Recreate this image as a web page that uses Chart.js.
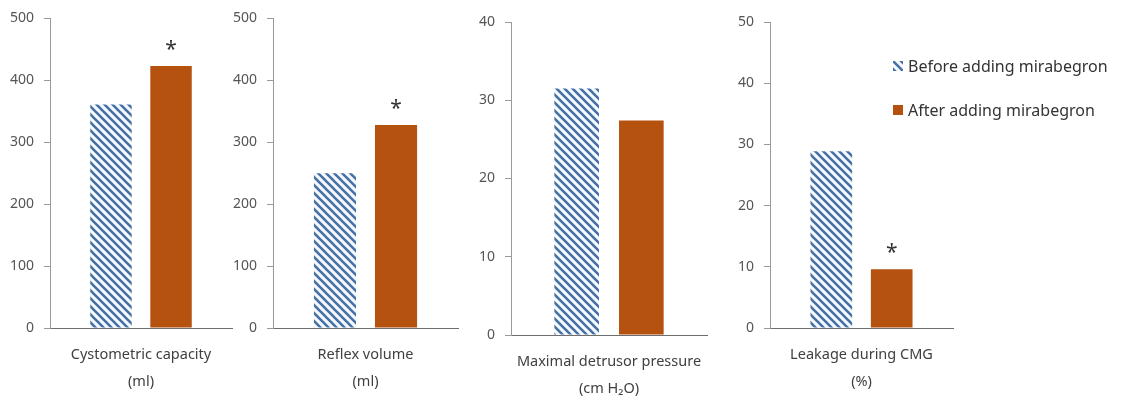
<!DOCTYPE html>
<html lang="en">
<head>
  <meta charset="UTF-8">
  <title>Mirabegron urodynamics</title>
  <script src="https://cdn.jsdelivr.net/npm/chart.js"></script>
  <style>
    html, body { margin: 0; padding: 0; background: #fff; }
    #wrap { position: relative; width: 1123px; height: 401px; overflow: hidden; }
    #wrap canvas { position: absolute; top: 0; }
  </style>
</head>
<body>
<div id="wrap">
  <canvas id="c0"></canvas>
  <canvas id="c1"></canvas>
  <canvas id="c2"></canvas>
  <canvas id="c3"></canvas>
</div>
<script>
// data
const seriesLabels = ['Before adding mirabegron', 'After adding mirabegron'];
const panelLabels = [
  ['Cystometric capacity', '(ml)'],
  ['Reflex volume', '(ml)'],
  ['Maximal detrusor pressure', '(cm H\u2082O)'],
  ['Leakage during CMG', '(%)']
];
const beforeValues = [361, 250, 31.5, 28.9];
const afterValues = [423, 328, 27.4, 9.6];
const significant = [true, true, false, true]; // * on the "after" bar
const yMax = [500, 500, 40, 50];
const yStep = [100, 100, 10, 10];

// where each little chart sits on the page
const boxes = [
  { left: 0,   width: 240, yw: 50, right: 8,   top: 16, bottom: 328 },
  { left: 225, width: 240, yw: 48, right: 7,   top: 16, bottom: 328 },
  { left: 460, width: 255, yw: 51, right: 8,   top: 22, bottom: 335 },
  { left: 720, width: 403, yw: 50, right: 170, top: 22, bottom: 328 }
];

const H = 401;
const FONT = "'Noto Sans', 'Open Sans', sans-serif";
const orange = '#b5520f';

function hatch() {
  const s = 8;
  const c = document.createElement('canvas');
  c.width = s; c.height = s;
  const g = c.getContext('2d');
  g.fillStyle = '#f6f9fd';
  g.fillRect(0, 0, s, s);
  g.strokeStyle = '#4571a6';
  g.lineWidth = 2.6;
  g.beginPath();
  g.moveTo(0, 0); g.lineTo(s, s);
  g.moveTo(-2, s - 2); g.lineTo(2, s + 2);
  g.moveTo(s - 2, -2); g.lineTo(s + 2, 2);
  g.stroke();
  return g.createPattern(c, 'repeat');
}

const starPlugin = {
  id: 'stars',
  afterDatasetsDraw(chart) {
    if (!chart.options.plugins.stars.show) return;
    const bar = chart.getDatasetMeta(1).data[0];
    const ctx = chart.ctx;
    ctx.save();
    ctx.fillStyle = '#333';
    ctx.font = '21px ' + FONT;
    ctx.textAlign = 'center';
    ctx.textBaseline = 'middle';
    ctx.fillText('*', bar.x, bar.y - 16);
    ctx.restore();
  }
};

const legendPlugin = {
  id: 'sideLegend',
  afterDraw(chart) {
    if (!chart.options.plugins.sideLegend.show) return;
    const ctx = chart.ctx;
    const x0 = chart.chartArea.right - 60;
    const ys = [66, 110];
    ctx.save();
    ctx.font = '16px ' + FONT;
    ctx.textBaseline = 'middle';
    chart.data.datasets.forEach((ds, i) => {
      ctx.fillStyle = ds.backgroundColor;
      ctx.fillRect(x0, ys[i] - 5, 10, 10);
      ctx.fillStyle = '#333';
      ctx.fillText(ds.label, x0 + 15, ys[i] + 1);
    });
    ctx.restore();
  }
};

const pattern = hatch();

boxes.forEach((b, i) => {
  const cv = document.getElementById('c' + i);
  cv.width = b.width;
  cv.height = H;
  cv.style.left = b.left + 'px';
  cv.style.width = b.width + 'px';
  cv.style.height = H + 'px';

  new Chart(cv, {
    type: 'bar',
    data: {
      labels: [panelLabels[i]],
      datasets: [
        { label: seriesLabels[0], data: [beforeValues[i]], backgroundColor: pattern },
        { label: seriesLabels[1], data: [afterValues[i]], backgroundColor: orange }
      ]
    },
    options: {
      responsive: false,
      animation: false,
      devicePixelRatio: 1,
      layout: { padding: { left: 0, right: b.right, top: b.top, bottom: 0 } },
      datasets: { bar: { categoryPercentage: 0.66, barPercentage: 0.69 } },
      plugins: {
        legend: { display: false },
        tooltip: { enabled: false },
        stars: { show: significant[i] },
        sideLegend: { show: i === 3 }
      },
      scales: {
        x: {
          grid: { display: false },
          border: { display: true, color: '#6e6e6e', width: 1 },
          ticks: {
            color: '#404040',
            padding: 5,
            font: { family: FONT, size: 14.5, lineHeight: '27px' }
          },
          afterFit(s) { s.height = H - b.bottom; }
        },
        y: {
          min: 0,
          max: yMax[i],
          grid: { drawOnChartArea: false, drawTicks: true, tickLength: 6, color: '#9a9a9a' },
          border: { display: true, color: '#9a9a9a', width: 1 },
          ticks: {
            stepSize: yStep[i],
            color: '#555',
            padding: 10,
            font: { family: FONT, size: 14 }
          },
          afterFit(s) { s.width = b.yw; }
        }
      }
    },
    plugins: [starPlugin, legendPlugin]
  });
});
</script>
</body>
</html>
